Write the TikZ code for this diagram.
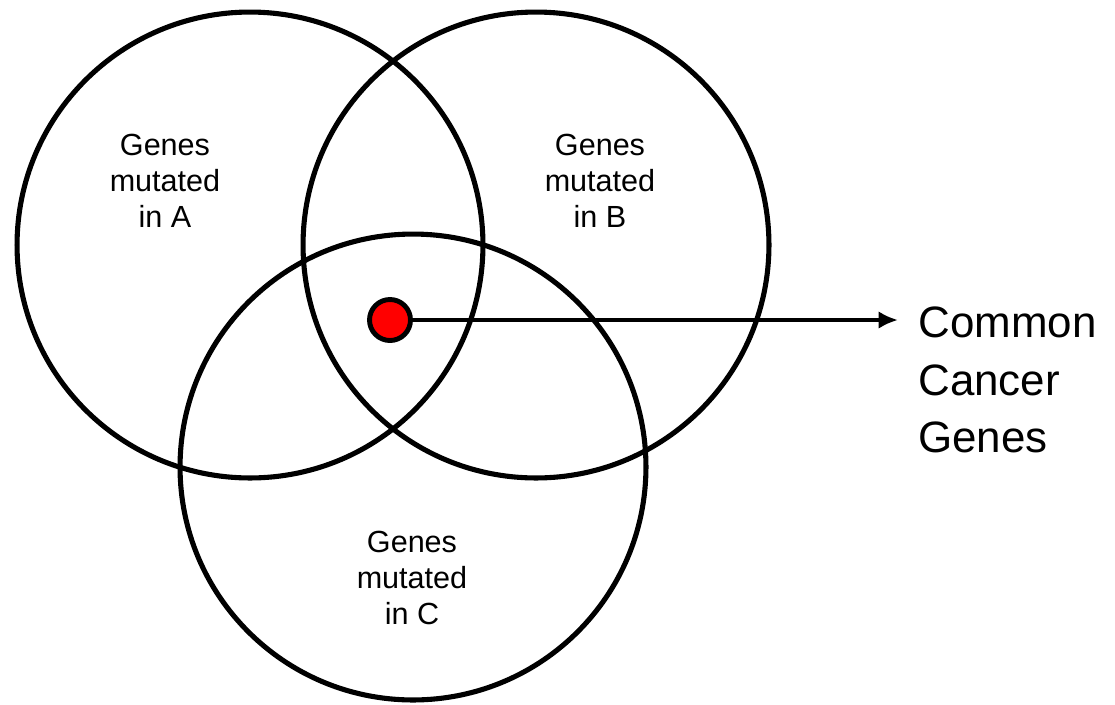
\documentclass[tikz,border=0pt]{standalone}
\usepackage{fontspec}
\setmainfont{Liberation Sans}
\usetikzlibrary{arrows.meta}

\begin{document}
\begin{tikzpicture}[x=0.02cm, y=-0.02cm, line cap=round, line join=round,
  ring/.style={line width=2.9pt},
  genes/.style={align=center, inner sep=0pt, font=\fontsize{17.4}{20.5}\selectfont},
  hit/.style={circle, draw, line width=2.8pt, fill=red, minimum size=0.82cm, inner sep=0pt},
  pointer/.style={line width=2.8pt, -{Latex[length=11pt,width=10pt]}}]

\useasboundingbox (0,0) rectangle (1115,704);

\def\rad{4.66cm}


\draw[ring] (250,245) circle[radius=\rad];
\draw[ring] (536,245) circle[radius=\rad];
\draw[ring] (413,467) circle[radius=\rad];


\node[genes] (setA) at (165,181) {Genes\\mutated\\in A};
\node[genes] (setB) at (600,181) {Genes\\mutated\\in B};
\node[genes] (setC) at (412,578) {Genes\\mutated\\in C};


\coordinate (tip) at (898,320);
\draw[pointer] (390,320) -- (tip);
\node[hit] (dot) at (390,320) {};
\node[anchor=north west, align=left, inner sep=0pt,
  font=\fontsize{25}{33}\selectfont] (common) at (918,306) {Common\\Cancer\\Genes};

\end{tikzpicture}
\end{document}
